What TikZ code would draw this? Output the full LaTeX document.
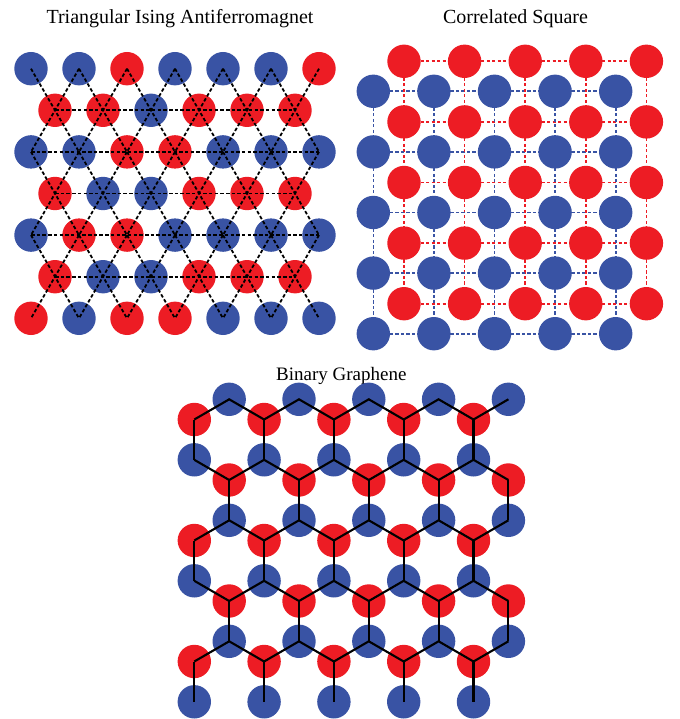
\documentclass[tikz,border=0pt]{standalone}
\usepackage{fontspec}
\setmainfont{Liberation Serif}
\usepackage{xcolor}
\usepackage{tikz}
\usetikzlibrary{backgrounds}
\definecolor{spinR}{HTML}{ED1C24}
\definecolor{spinB}{HTML}{3953A4}

\begin{document}
\begin{tikzpicture}[
        x=1pt, y=-1pt,
        site/.style={circle, inner sep=0pt, minimum size=33.4pt},
        tribond/.style={black, line width=1.8pt, dash pattern=on 3.5pt off 2.2pt},
        sqbond/.style={line width=1.6pt, dash pattern=on 3.2pt off 2.3pt},
        hexbond/.style={black, line width=2.1pt, line join=miter},
        paneltitle/.style={font=\fontsize{20}{24}\selectfont, inner sep=0pt, anchor=base}
      ]
      \useasboundingbox (0,0) rectangle (679,719);
      \node[paneltitle] (tri-title) at (180,23.3) {Triangular Ising Antiferromagnet};
      \node[paneltitle] (sq-title) at (515.5,24) {Correlated Square};
      \node[paneltitle, font=\fontsize{19}{23}\selectfont] (hex-title) at (341.3,380)
        {Binary Graphene};

      \foreach \r/\spins in {0/{B,B,R,B,B,B,R}, 2/{B,B,R,R,B,B,B},
                              4/{B,R,R,B,B,B,B}, 6/{R,B,R,R,B,B,B}}
        \foreach \s [count=\i from 0] in \spins
          \node[site, fill=spin\s] (t-\r-\i) at (31+48*\i, 68.7+41.6*\r) {};
      \foreach \r/\spins in {1/{R,R,B,R,R,R}, 3/{R,B,B,R,R,R}, 5/{R,B,B,R,R,R}}
        \foreach \s [count=\i from 0] in \spins
          \node[site, fill=spin\s] (t-\r-\i) at (55+48*\i, 68.7+41.6*\r) {};
      \foreach \r in {1,3,5}
        \foreach \i in {0,...,5} {
          \pgfmathtruncatemacro{\up}{\r-1}
          \pgfmathtruncatemacro{\dn}{\r+1}
          \pgfmathtruncatemacro{\nx}{\i+1}
          \draw[tribond] (t-\up-\i.center) -- (t-\r-\i.center) -- (t-\dn-\nx.center);
          \draw[tribond] (t-\up-\nx.center) -- (t-\r-\i.center) -- (t-\dn-\i.center);
        }
      \foreach \r/\last in {1/5, 2/6, 3/5, 4/6, 5/5}
        \draw[tribond] (t-\r-0.center) -- (t-\r-\last.center);

      \foreach \i in {0,...,4}
        \foreach \j in {0,...,4} {
          \node[site, fill=spinB] (sb-\i-\j) at (373.3+60.6*\i, 91.3+60.6*\j) {};
          \node[site, fill=spinR] (sr-\i-\j) at (404+60.6*\i, 61.3+60.6*\j) {};
        }
      \begin{scope}[on background layer]
        \foreach \k in {0,...,4} {
          \draw[sqbond, spinB] (sb-0-\k.center) -- (sb-4-\k.center);
          \draw[sqbond, spinB] (sb-\k-0.center) -- (sb-\k-4.center);
          \draw[sqbond, spinR] (sr-0-\k.center) -- (sr-4-\k.center);
          \draw[sqbond, spinR] (sr-\k-0.center) -- (sr-\k-4.center);
        }
      \end{scope}

      \foreach \k in {0,...,4}
        \foreach \j in {0,...,9} {
          \pgfmathtruncatemacro{\h}{mod(\j+\k,2)}
          \ifnum\h=1
            \node[site, fill=spinB] (g-\k-\j) at (194.3+34.9*\j, 399.3+60.5*\k) {};
          \else
            \node[site, fill=spinR] (g-\k-\j) at (194.3+34.9*\j, 419.5+60.5*\k) {};
          \fi
        }
      \foreach \j in {0,2,...,8}
        \node[site, fill=spinB] (g-5-\j) at (194.3+34.9*\j, 701.8) {};
      \foreach \k in {0,...,4}
        \draw[hexbond] (g-\k-0.center) \foreach \j in {1,...,9} { -- (g-\k-\j.center) };
      \foreach \k in {0,...,4}
        \foreach \j in {0,...,9} {
          \pgfmathtruncatemacro{\h}{mod(\j+\k,2)}
          \pgfmathtruncatemacro{\dn}{\k+1}
          \ifnum\h=0 \draw[hexbond] (g-\k-\j.center) -- (g-\dn-\j.center); \fi
        }
    \end{tikzpicture}
\end{document}
